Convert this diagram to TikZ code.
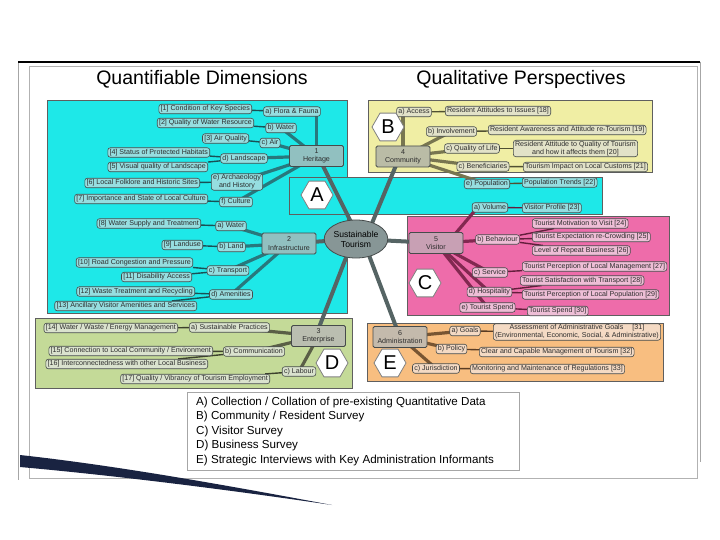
\documentclass[tikz,border=0pt]{standalone}
\usepackage{fontspec}
\setmainfont{Liberation Sans}
\usetikzlibrary{shapes.geometric}
\pgfdeclarelayer{back}\pgfdeclarelayer{mid}
\pgfsetlayers{back,mid,main}
\definecolor{cyanR}{RGB}{30,232,232}
\definecolor{cyanBox}{RGB}{150,222,224}
\definecolor{cyanHub}{RGB}{145,192,192}
\definecolor{cyanLk}{RGB}{40,120,125}
\definecolor{cyanLf}{RGB}{25,80,85}
\definecolor{yelR}{RGB}{240,238,164}
\definecolor{yelBox}{RGB}{226,226,200}
\definecolor{yelHub}{RGB}{186,188,166}
\definecolor{yelLk}{RGB}{120,118,80}
\definecolor{yelLf}{RGB}{80,80,50}
\definecolor{pinkR}{RGB}{238,108,170}
\definecolor{pinkBox}{RGB}{238,190,214}
\definecolor{pinkHub}{RGB}{200,160,180}
\definecolor{pinkLk}{RGB}{130,40,80}
\definecolor{pinkLf}{RGB}{100,30,60}
\definecolor{greenR}{RGB}{196,218,152}
\definecolor{greenBox}{RGB}{218,226,206}
\definecolor{greenHub}{RGB}{186,190,176}
\definecolor{greenLk}{RGB}{90,95,70}
\definecolor{greenLf}{RGB}{60,65,45}
\definecolor{orR}{RGB}{248,190,128}
\definecolor{orBox}{RGB}{244,218,196}
\definecolor{orHub}{RGB}{196,186,172}
\definecolor{orLk}{RGB}{120,85,50}
\definecolor{orLf}{RGB}{90,60,35}
\definecolor{mainLk}{RGB}{85,100,100}
\definecolor{ellF}{RGB}{135,150,150}
\definecolor{boxB}{RGB}{70,75,75}
\definecolor{txt}{RGB}{45,45,45}
\definecolor{regB}{RGB}{95,95,95}
\definecolor{navy}{RGB}{25,35,65}
\begin{document}
\begin{tikzpicture}[x=1pt,y=-1pt,
  box/.style={draw=boxB, line width=0.6pt, rounded corners=2.5pt, inner xsep=1.8pt, inner ysep=1pt, minimum height=9.5pt, font=\fontsize{7.1}{7.8}\selectfont, text=txt, align=center},
  bA/.style={box, fill=cyanBox},
  bB/.style={box, fill=yelBox},
  bC/.style={box, fill=pinkBox},
  bD/.style={box, fill=greenBox},
  bE/.style={box, fill=orBox},
  hub/.style={draw=boxB, line width=0.8pt, rounded corners=1.5pt, minimum width=54pt, minimum height=21pt, inner sep=1pt, font=\fontsize{7.1}{8.2}\selectfont, align=center, text=txt},
  hexa/.style={regular polygon, regular polygon sides=6, draw=gray, line width=0.8pt, fill=white, minimum size=32pt, inner sep=0pt, font=\fontsize{20}{20}\selectfont},
  region/.style={draw=regB, line width=0.8pt},
  mlink/.style={mainLk, line width=4pt},
  hl/.style={line width=3.2pt},
  ll/.style={line width=1.4pt},
  legend/.style={anchor=west, font=\fontsize{11.6}{13}\selectfont, inner sep=0pt},
  title/.style={font=\fontsize{19.5}{22}\selectfont, inner sep=0pt}
]
\useasboundingbox (0,0) rectangle (720,540);

% regions
\begin{pgfonlayer}{back}
\fill[white] (0,0) rectangle (720,540);
\fill[cyanR, region] (47,100) rectangle (347,313);
\fill[cyanR, region] (289,177) rectangle (602,214);
\fill[yelR, region] (368,100) rectangle (652,172);
\fill[pinkR, region] (407,216) rectangle (669,315);
\fill[greenR, region] (35,318) rectangle (352,388);
\fill[orR, region] (367,323) rectangle (663,381);
\end{pgfonlayer}

% frame
\draw[gray!70, line width=0.8pt] (18,62) -- (18,480);
\draw[black, line width=1.2pt] (18,62) -- (700,62);
\draw[gray!70, line width=0.8pt] (700,62) -- (700,462);
\draw[gray!60, line width=0.8pt] (29,66) rectangle (697,478);
\fill[navy] (20,455) .. controls (120,466) and (230,486) .. (332,505) .. controls (230,490) and (120,476) .. (20,467) -- cycle;

\node[title] (t1) at (202,79) {Quantifiable Dimensions};
\node[title] (t2) at (521,79) {Qualitative Perspectives};

% centre
\node[ellipse, draw=boxB, line width=0.8pt, fill=ellF, minimum width=49pt, minimum height=38pt, inner sep=0pt, align=center, font=\fontsize{8.6}{10}\selectfont] (ctr) at (356,239) {Sustainable\\Tourism};

% hubs
\node[hub, fill=cyanHub] (h1) at (316.5,156) {1\\Heritage};
\node[hub, fill=cyanHub] (h2) at (289,243.5) {2\\Infrastructure};
\node[hub, fill=greenHub] (h3) at (318.5,336) {3\\Enterprise};
\node[hub, fill=yelHub] (h4) at (403,156.5) {4\\Community};
\node[hub, fill=pinkHub] (h5) at (436,243) {5\\Visitor};
\node[hub, fill=orHub] (h6) at (400,337) {6\\Administration};

% A heritage
\node[bA, anchor=east] (l1) at (252,109) {[1] Condition of Key Species};
\node[bA, anchor=east] (l2) at (254,123) {[2] Quality of Water Resource};
\node[bA, anchor=east] (l3) at (249,138.5) {[3] Air Quality};
\node[bA, anchor=east] (l4) at (210,152.5) {[4] Status of Protected Habitats};
\node[bA, anchor=east] (l5) at (208,167) {[5] Visual quality of Landscape};
\node[bA, anchor=east] (l6) at (200,183) {[6] Local Folklore and Historic Sites};
\node[bA, anchor=east] (l7) at (208,199) {[7] Importance and State of Local Culture};
\node[bA] (a1) at (292,111.5) {a) Flora \& Fauna};
\node[bA] (b1) at (281,128) {b) Water};
\node[bA] (c1) at (270,143) {c) Air};
\node[bA] (d1) at (244,158.5) {d) Landscape};
\node[bA] (e1) at (237,182) {e) Archaeology\\and History};
\node[bA] (f1) at (236,202) {f) Culture};

% A infrastructure
\node[bA, anchor=east] (l8) at (201,223.5) {[8] Water Supply and Treatment};
\node[bA, anchor=east] (l9) at (203,245) {[9] Landuse};
\node[bA, anchor=east] (l10) at (193,262.5) {[10] Road Congestion and Pressure};
\node[bA, anchor=east] (l11) at (192,277) {[11] Disability Access};
\node[bA, anchor=east] (l12) at (195,291.5) {[12] Waste Treatment and Recycling};
\node[bA, anchor=east] (l13) at (197,306) {[13] Ancillary Visitor Amenities and Services};
\node[bA] (a2) at (231,226) {a) Water};
\node[bA] (b2) at (231.5,247) {b) Land};
\node[bA] (c2) at (228,270.5) {c) Transport};
\node[bA] (d2) at (231,294.5) {d) Amenities};

% D enterprise
\node[bD, anchor=east] (l14) at (178,328) {[14] Water / Waste / Energy Management};
\node[bD, anchor=east] (l15) at (213,351) {[15] Connection to Local Community / Environment};
\node[bD, anchor=east] (l16) at (208,364) {[16] Interconnectedness with other Local Business};
\node[bD, anchor=east] (l17) at (270,379) {[17] Quality / Vibrancy of Tourism Employment};
\node[bD] (a3) at (229.5,327.5) {a) Sustainable Practices};
\node[bD] (b3) at (254,351.5) {b) Communication};
\node[bD] (c3) at (299,371.5) {c) Labour};

% B community
\node[bB] (a4) at (414,112) {a) Access};
\node[bB] (b4) at (451.5,131.5) {b) Involvement};
\node[bB] (c4) at (472,148.5) {c) Quality of Life};
\node[bB] (d4) at (483,166.5) {c) Beneficiaries};
\node[bA] (e4) at (487,184) {e) Population};
\node[bB, anchor=west] (l18) at (445,111) {Resident Attitudes to Issues [18]};
\node[bB, anchor=west] (l19) at (488,130) {Resident Awareness and Attitude re-Tourism [19]};
\node[bB, anchor=west] (l20) at (513,148.5) {Resident Attitude to Quality of Tourism\\and how it affects them [20]};
\node[bB, anchor=west] (l21) at (523,167) {Tourism Impact on Local Customs [21]};
\node[bA, anchor=west] (l22) at (522,182.5) {Population Trends [22]};

% C visitor
\node[bA] (a5) at (490,207.5) {a) Volume};
\node[bC] (b5) at (497.5,239.5) {b) Behaviour};
\node[bC] (c5) at (490,272.5) {c) Service};
\node[bC] (d5) at (489.5,292) {d) Hospitality};
\node[bC] (e5) at (487.5,307.5) {e) Tourist Spend};
\node[bA, anchor=west] (l23) at (522,208) {Visitor Profile [23]};
\node[bC, anchor=west] (l24) at (532,223.5) {Tourist Motivation to Visit [24]};
\node[bC, anchor=west] (l25) at (532,237) {Tourist Expectation re-Crowding [25]};
\node[bC, anchor=west] (l26) at (532,250.5) {Level of Repeat Business [26]};
\node[bC, anchor=west] (l27) at (522,266.5) {Tourist Perception of Local Management [27]};
\node[bC, anchor=west] (l28) at (520,280.5) {Tourist Satisfaction with Transport [28]};
\node[bC, anchor=west] (l29) at (522,294.5) {Tourist Perception of Local Population [29]};
\node[bC, anchor=west] (l30) at (527,311) {Tourist Spend [30]};

% E administration
\node[bE] (a6) at (465,331) {a) Goals};
\node[bE] (b6) at (451.5,349) {b) Policy};
\node[bE] (c6) at (436,368.5) {c) Jurisdiction};
\node[bE, anchor=west] (l31) at (493,332) {Assessment of Administrative Goals\quad\ [31]\\(Environmental, Economic, Social, \& Administrative)};
\node[bE, anchor=west] (l32) at (479,352) {Clear and Capable Management of Tourism [32]};
\node[bE, anchor=west] (l33) at (470,369) {Monitoring and Maintenance of Regulations [33]};

% hexagons
\node[hexa] (hA) at (317,195) {A};
\node[hexa] (hB) at (388,127) {B};
\node[hexa] (hC) at (425,283) {C};
\node[hexa] (hD) at (332,363) {D};
\node[hexa] (hE) at (390,363) {E};

% legend
\draw[gray!70, line width=0.8pt, fill=white] (187,392) rectangle (519,470);
\node[legend] (lgA) at (196,402) {A) Collection / Collation of pre-existing Quantitative Data};
\node[legend] (lgB) at (196,416.5) {B) Community / Resident Survey};
\node[legend] (lgC) at (196,431) {C) Visitor Survey};
\node[legend] (lgD) at (196,445.5) {D) Business Survey};
\node[legend] (lgE) at (196,460) {E) Strategic Interviews with Key Administration Informants};

% connectors
\begin{pgfonlayer}{mid}
\coordinate (k1) at (320,160); \coordinate (k1c) at (354,228);
\draw[mlink] (k1) -- (k1c);
\draw[mlink] (h2.center) -- (ctr.center);
\coordinate (k3) at (318,330); \coordinate (k3c) at (349,250);
\draw[mlink] (k3) -- (k3c);
\coordinate (k4) at (397,163); \coordinate (k4c) at (370,228);
\draw[mlink] (k4) -- (k4c);
\draw[mlink] (ctr.center) -- (h5.center);
\coordinate (k6) at (398,332); \coordinate (k6c) at (367,250);
\draw[mlink] (k6) -- (k6c);
% hub links
\draw[hl, cyanLk] (h1.center |- a1.center) -- (h1.center);
\foreach \n in {b1,c1,d1,e1,f1} \draw[hl, cyanLk] (\n.center) -- (h1.center);
\foreach \n in {a2,b2,c2,d2} \draw[hl, cyanLk] (\n.center) -- (h2.center);
\foreach \n in {a3,b3,c3} \draw[hl, greenLk] (\n.center) -- (h3.center);
\draw[hl, yelLk] (h4.center |- a4.center) -- (h4.center);
\foreach \n in {b4,c4,d4,e4} \draw[hl, yelLk] (\n.center) -- (h4.center);
\coordinate (k5) at (450,240); \coordinate (k5a) at (478,207);
\draw[hl, pinkLk] (k5) -- (k5a);
\foreach \n in {b5,c5,d5,e5} \draw[hl, pinkLk] (\n.center) -- (h5.center);
\foreach \n in {a6,b6,c6} \draw[hl, orLk] (\n.center) -- (h6.center);
% leaves
\draw[ll, cyanLf] (l1) -- (a1);
\draw[ll, cyanLf] (l2) -- (b1);
\draw[ll, cyanLf] (l3) -- (c1);
\draw[ll, cyanLf] (l4) -- (d1);
\draw[ll, cyanLf] (l5) -- (d1);
\draw[ll, cyanLf] (l6) -- (e1);
\draw[ll, cyanLf] (l7) -- (f1);
\draw[ll, cyanLf] (l8) -- (a2);
\draw[ll, cyanLf] (l9) -- (b2);
\draw[ll, cyanLf] (l10) -- (c2);
\draw[ll, cyanLf] (l11) -- (c2);
\draw[ll, cyanLf] (l12) -- (d2);
\draw[ll, cyanLf] (l13) -- (d2);
\draw[ll, greenLf] (l14) -- (a3);
\draw[ll, greenLf] (l15) -- (b3);
\draw[ll, greenLf] (l16) -- (b3);
\draw[ll, greenLf] (l17) -- (c3);
\draw[ll, yelLf] (a4) -- (l18);
\draw[ll, yelLf] (b4) -- (l19);
\draw[ll, yelLf] (c4) -- (l20);
\draw[ll, yelLf] (d4) -- (l21);
\draw[ll, yelLf] (e4) -- (l22);
\draw[ll, pinkLf] (a5) -- (l23);
\draw[ll, pinkLf] (b5) -- (l24);
\draw[ll, pinkLf] (b5) -- (l25);
\draw[ll, pinkLf] (b5) -- (l26);
\draw[ll, pinkLf] (c5) -- (l27);
\draw[ll, pinkLf] (d5) -- (l28);
\draw[ll, pinkLf] (d5) -- (l29);
\draw[ll, pinkLf] (e5) -- (l30);
\draw[ll, orLf] (a6) -- (l31);
\draw[ll, orLf] (b6) -- (l32);
\draw[ll, orLf] (c6) -- (l33);
\end{pgfonlayer}
\end{tikzpicture}
\end{document}
